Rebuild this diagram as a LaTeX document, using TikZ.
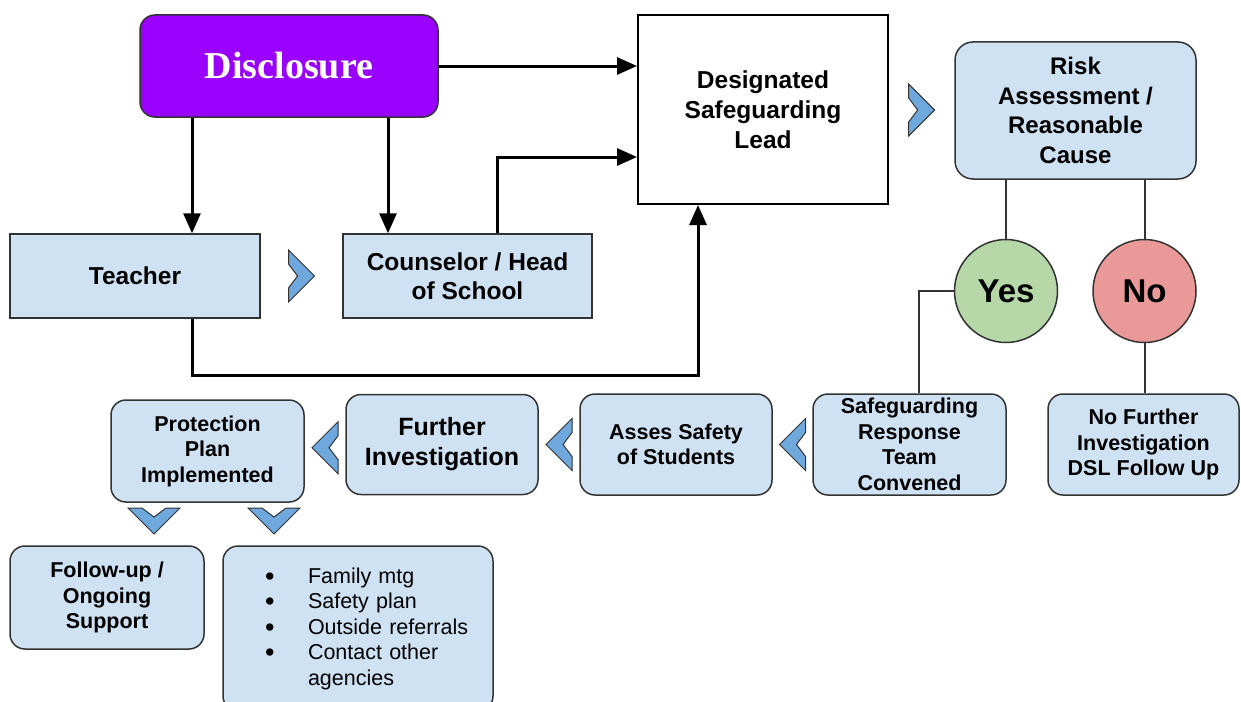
\documentclass[tikz,border=0pt]{standalone}
\usepackage{fontspec}
\setmainfont{Liberation Sans}
\newfontfamily\discfont{Liberation Serif}
\usepackage{tikz}
\usetikzlibrary{positioning}
\usetikzlibrary{calc}
\usetikzlibrary{arrows.meta}
\definecolor{discpurple}{HTML}{9900FF}
\definecolor{boxblue}{HTML}{CFE2F3}
\definecolor{chevblue}{HTML}{6FA8DC}
\definecolor{yesgreen}{HTML}{B6D7A8}
\definecolor{nored}{HTML}{EA9999}
\definecolor{edge}{HTML}{333333}
\tikzset{every picture/.style={line width=1.5pt}}
\newcommand\stepitem{\hspace*{32pt}\makebox[43pt][l]{\raisebox{-2pt}{\fontsize{27}{0}\selectfont\textbullet}}}
\begin{document}
\begin{tikzpicture}[x=1pt,y=-1pt,
sq/.style={rectangle, draw=edge, fill=boxblue, inner sep=0pt, align=center, font=\bfseries\fontsize{24.5}{29}\selectfont},
rbx/.style={sq, rounded corners=15pt, font=\bfseries\fontsize{21.5}{25.5}\selectfont},
yn/.style={circle, draw=edge, minimum size=103pt, inner sep=0pt, font=\bfseries\fontsize{33}{40}\selectfont},
arr/.style={line width=3pt, -{Triangle[length=20pt,width=17pt]}},
thin/.style={line width=2pt, draw=edge},
chev/.pic={\draw[draw=edge, fill=chevblue, line width=1pt] (-13,-26) -- (13,0) -- (-13,26) -- (-13,12) -- (-4,0) -- (-13,-12) -- cycle;}]
\clip (0,0) rectangle (1241,701);
\fill[white] (0,0) rectangle (1241,701);
% top row
\node (disc) at (289,66) [rectangle, rounded corners=15pt, draw=edge, fill=discpurple, minimum width=298pt, minimum height=102pt, text=white, font=\discfont\bfseries\fontsize{38}{44}\selectfont] {Disclosure};
\node (teacher) at (135,276) [sq, minimum width=250pt, minimum height=84pt] {Teacher};
\node (couns) at (467.5,276) [sq, minimum width=249pt, minimum height=84pt] {Counselor / Head\\of School};
\node (dsl) at (763,109.5) [sq, fill=white, draw=black, line width=2pt, minimum width=250pt, minimum height=189pt, font=\bfseries\fontsize{24.5}{30}\selectfont] {Designated\\Safeguarding\\Lead};
\node (risk) at (1075.5,110.5) [rbx, rounded corners=18pt, minimum width=241pt, minimum height=137pt, font=\bfseries\fontsize{24}{29.5}\selectfont] {Risk\\Assessment /\\Reasonable\\Cause};
\node (yes) at (1006,291) [yn, fill=yesgreen] {Yes};
\node (no) at (1144.5,291) [yn, fill=nored] {No};
% bottom rows
\node (srt) at (909.5,444.5) [rbx, minimum width=193pt, minimum height=101pt] {Safeguarding\\Response\\Team\\Convened};
\node (nofurther) at (1143.5,444.5) [rbx, minimum width=191pt, minimum height=101pt] {No Further\\Investigation\\DSL Follow Up};
\node (asses) at (676,444.5) [rbx, minimum width=192pt, minimum height=101pt] {Asses Safety\\of Students};
\node (further) at (442,444.5) [rbx, minimum width=192pt, minimum height=100pt, font=\bfseries\fontsize{25}{30}\selectfont] {Further\\Investigation};
\node (protect) at (207.5,451) [rbx, minimum width=193pt, minimum height=102pt] {Protection\\Plan\\Implemented};
\node (follow) at (107,597.5) [rbx, minimum width=194pt, minimum height=103pt] {Follow-up /\\Ongoing\\Support};
\node (steps) at (358,628.5) [rbx, minimum width=270pt, minimum height=165pt, text width=250pt, align=left, font=\fontsize{21.5}{25.5}\selectfont] {\stepitem Family mtg\\\stepitem Safety plan\\\stepitem Outside referrals\\\stepitem Contact other\\\hspace*{75pt}agencies};
% arrows
\draw[arr] (disc.east) -- (disc.east -| dsl.west);
\draw[arr] ([xshift=-97pt]disc.south) -- ([xshift=57pt]teacher.north);
\draw[arr] ([xshift=99pt]disc.south) -- ([xshift=-79.5pt]couns.north);
\draw[arr] ([xshift=29.5pt]couns.north) |- ([yshift=-47.5pt]dsl.west);
\draw[arr] ([xshift=57pt]teacher.south) -- ++(0,57) -| ([xshift=-65pt]dsl.south);
\draw[thin] (risk.south -| yes) -- (yes.north);
\draw[thin] (risk.south -| no) -- (no.north);
\draw[thin] (yes.west) -| ([xshift=9.5pt]srt.north);
\draw[thin] (no.south) -- (no.south |- nofurther.north);
% chevrons
\pic at ($(teacher.east)!0.5!(couns.west)$) {chev};
\pic at ($(dsl.east)!0.5!(risk.west)$) {chev};
\pic[rotate=180] at ($(srt.west)!0.5!(asses.east)$) {chev};
\pic[rotate=180] at ($(asses.west)!0.5!(further.east)$) {chev};
\pic[rotate=180] at ($(further.west)!0.5!(protect.east)$) {chev};
\pic[rotate=-90] at (154,521) {chev};
\pic[rotate=-90] at (274,521) {chev};
\end{tikzpicture}
\end{document}
